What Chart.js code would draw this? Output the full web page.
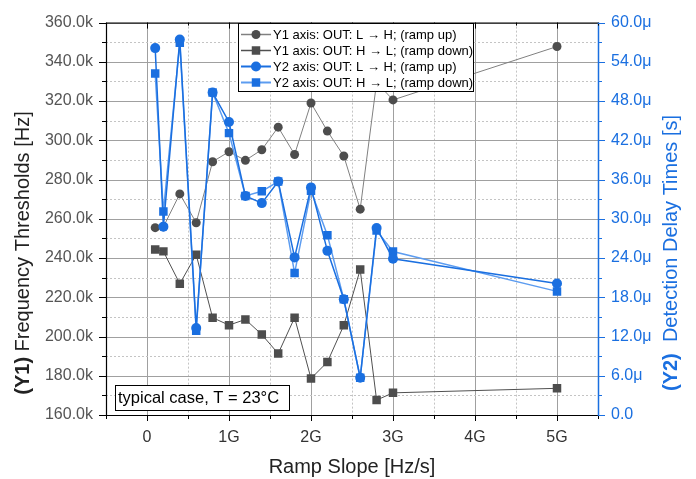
<!DOCTYPE html>
<html><head><meta charset="utf-8">
<script src="https://cdn.jsdelivr.net/npm/chart.js@4/dist/chart.umd.min.js"></script>
<style>html,body{margin:0;padding:0;background:#fff}#wrap{width:696px;height:479px}</style>
</head><body><div id="wrap"><canvas id="c" width="696" height="479"></canvas></div>
<script>
// ---- data ----
const slopes = [0.1e9,0.2e9,0.4e9,0.6e9,0.8e9,1.0e9,1.2e9,1.4e9,1.6e9,1.8e9,2.0e9,2.2e9,2.4e9,2.6e9,2.8e9,3.0e9,5.0e9];
const thrUp   = [255.5e3,255.9e3,272.7e3,258.0e3,289.1e3,294.2e3,289.8e3,295.2e3,306.7e3,292.8e3,319.0e3,304.7e3,292.0e3,264.9e3,329.5e3,320.6e3,347.8e3];
const thrDown = [244.3e3,243.4e3,226.9e3,241.7e3,209.6e3,205.8e3,208.7e3,201.0e3,191.3e3,209.6e3,178.6e3,187.0e3,205.7e3,234.1e3,167.6e3,171.3e3,173.6e3];
const delayUpUs   = [56.1,28.8,57.4,13.3,49.3,44.8,33.5,32.4,35.7,24.1,34.8,25.1,17.7,5.7,28.6,23.9,20.1];
const delayDownUs = [52.2,31.1,56.9,12.9,49.3,43.1,33.5,34.2,35.7,21.7,34.3,27.5,17.7,5.7,28.2,25.0,18.9];
const seriesLabels = [
  'Y1 axis: OUT: L \u2192 H; (ramp up)',
  'Y1 axis: OUT: H \u2192 L; (ramp down)',
  'Y2 axis: OUT: L \u2192 H; (ramp up)',
  'Y2 axis: OUT: H \u2192 L; (ramp down)'
];
const xTitle = 'Ramp Slope [Hz/s]';
const y1TitleBold = '(Y1)', y1Title = ' Frequency Thresholds [Hz]';
const y2TitleBold = '(Y2)', y2Title = '  Detection Delay Times [s]';
const noteText = 'typical case, T = 23\u00B0C';

const FONT = "'Liberation Sans', Arial, sans-serif";
const GRAY = '#4d4d4d', BLUE = '#1a6fe0', LBLUE = '#5c9cf0';

const pts = (xs, ys) => xs.map((x, i) => ({x: x, y: ys[i]}));

function isMajorX(v){ return Math.round(v/0.5e9) % 2 === 0; }
function isMajorY(v){ return Math.round(v/1e4) % 2 === 0; }
function isMajorY2(v){ return Math.round(v/3) % 2 === 0; }

const decor = {
  id: 'decor',
  beforeDatasetsDraw(chart){
    const {ctx, chartArea: a, scales: {x, y}} = chart;
    ctx.save();
    ctx.lineWidth = 1;
    x.ticks.forEach(t => {
      const px = Math.round(x.getPixelForValue(t.value)) + 0.5;
      if (px <= a.left + 1 || px >= a.right - 1) return;
      ctx.beginPath();
      if (isMajorX(t.value)) { ctx.strokeStyle = '#a0a0a0'; ctx.setLineDash([]); }
      else { ctx.strokeStyle = '#c4c4c4'; ctx.setLineDash([2, 2]); }
      ctx.moveTo(px, a.top); ctx.lineTo(px, a.bottom); ctx.stroke();
    });
    y.ticks.forEach(t => {
      const py = Math.round(y.getPixelForValue(t.value)) + 0.5;
      if (py <= a.top + 1 || py >= a.bottom - 1) return;
      ctx.beginPath();
      if (isMajorY(t.value)) { ctx.strokeStyle = '#a0a0a0'; ctx.setLineDash([]); }
      else { ctx.strokeStyle = '#c4c4c4'; ctx.setLineDash([2, 2]); }
      ctx.moveTo(a.left, py); ctx.lineTo(a.right, py); ctx.stroke();
    });
    ctx.restore();
  },
  afterDatasetsDraw(chart){
    const {ctx, chartArea: a, scales: {x, y, y2}} = chart;
    ctx.save();
    ctx.setLineDash([]);
    // frame
    ctx.lineWidth = 1.2;
    ctx.strokeStyle = '#000';
    ctx.beginPath();
    ctx.moveTo(a.right, a.top + 0.5); ctx.lineTo(a.left + 0.5, a.top + 0.5);
    ctx.lineTo(a.left + 0.5, a.bottom + 0.5); ctx.lineTo(a.right, a.bottom + 0.5);
    ctx.stroke();
    ctx.strokeStyle = BLUE; ctx.lineWidth = 1.5;
    ctx.beginPath(); ctx.moveTo(a.right + 0.5, a.top); ctx.lineTo(a.right + 0.5, a.bottom + 1); ctx.stroke();
    // tick marks
    ctx.lineWidth = 1;
    ctx.strokeStyle = '#000';
    x.ticks.forEach(t => {
      const px = Math.round(x.getPixelForValue(t.value)) + 0.5;
      const maj = isMajorX(t.value);
      ctx.beginPath();
      ctx.moveTo(px, a.bottom); ctx.lineTo(px, a.bottom + (maj ? 6 : 4));
      ctx.moveTo(px, a.top); ctx.lineTo(px, a.top + (maj ? 6 : 3));
      ctx.stroke();
    });
    y.ticks.forEach(t => {
      const py = Math.round(y.getPixelForValue(t.value)) + 0.5;
      const maj = isMajorY(t.value);
      ctx.beginPath(); ctx.moveTo(a.left, py); ctx.lineTo(a.left - (maj ? 7 : 4), py); ctx.stroke();
    });
    ctx.strokeStyle = BLUE;
    y2.ticks.forEach(t => {
      const py = Math.round(y2.getPixelForValue(t.value)) + 0.5;
      const maj = isMajorY2(t.value);
      ctx.beginPath(); ctx.moveTo(a.right, py); ctx.lineTo(a.right + (maj ? 7 : 4), py); ctx.stroke();
    });

    // legend box
    const lx = 238, ly = 23, lw = 235, lh = 68;
    ctx.fillStyle = '#fff'; ctx.fillRect(lx, ly, lw, lh);
    ctx.strokeStyle = '#000'; ctx.lineWidth = 1;
    ctx.strokeRect(lx + 0.5, ly + 0.5, lw, lh);
    const rows = [34, 50, 66, 82];
    chart.data.datasets.forEach((ds, i) => {
      const ry = rows[i];
      ctx.strokeStyle = ds.borderColor; ctx.lineWidth = ds.borderWidth + 0.5;
      ctx.beginPath(); ctx.moveTo(lx + 3, ry + 0.5); ctx.lineTo(lx + 33, ry + 0.5); ctx.stroke();
      ctx.fillStyle = ds.pointBackgroundColor;
      const r = ds.pointRadius;
      if (ds.pointStyle === 'rect') {
        const s = r * Math.SQRT1_2;
        ctx.fillRect(lx + 18 - s, ry + 0.5 - s, 2 * s, 2 * s);
      } else {
        ctx.beginPath(); ctx.arc(lx + 18, ry + 0.5, r, 0, Math.PI * 2); ctx.fill();
      }
      ctx.fillStyle = '#000';
      ctx.font = '13px ' + FONT;
      ctx.textBaseline = 'middle'; ctx.textAlign = 'left';
      ctx.fillText(ds.label, lx + 35, ry + 1);
    });

    // annotation box
    ctx.fillStyle = '#fff'; ctx.fillRect(115, 385, 174, 25);
    ctx.strokeStyle = '#000'; ctx.lineWidth = 1; ctx.strokeRect(115.5, 385.5, 174, 25);
    ctx.fillStyle = '#000'; ctx.font = '16.5px ' + FONT;
    ctx.textBaseline = 'middle'; ctx.textAlign = 'left';
    ctx.fillText(noteText, 118, 398.5);

    // axis titles
    ctx.fillStyle = '#222'; ctx.font = '20px ' + FONT; ctx.textAlign = 'center';
    ctx.fillText(xTitle, (a.left + a.right) / 2, 467);
    function vtitle(cx, cy, b, n, col){
      ctx.save();
      ctx.translate(cx, cy); ctx.rotate(-Math.PI / 2);
      ctx.fillStyle = col; ctx.textAlign = 'left'; ctx.textBaseline = 'middle';
      ctx.font = 'bold 20px ' + FONT; const wb = ctx.measureText(b).width;
      ctx.font = '20px ' + FONT; const wn = ctx.measureText(n).width;
      const x0 = -(wb + wn) / 2;
      ctx.font = 'bold 20px ' + FONT; ctx.fillText(b, x0, 0);
      ctx.font = '20px ' + FONT; ctx.fillText(n, x0 + wb, 0);
      ctx.restore();
    }
    vtitle(23, 253, y1TitleBold, y1Title, '#222');
    vtitle(671, 253, y2TitleBold, y2Title, BLUE);
    ctx.restore();
  }
};

new Chart(document.getElementById('c'), {
  type: 'line',
  data: {
    datasets: [
      {label: seriesLabels[0], data: pts(slopes, thrUp), yAxisID: 'y', borderColor: '#808080', borderWidth: 1,
       pointStyle: 'circle', pointRadius: 4.5, pointBackgroundColor: GRAY, pointBorderColor: GRAY, pointBorderWidth: 0, order: 2},
      {label: seriesLabels[1], data: pts(slopes, thrDown), yAxisID: 'y', borderColor: '#505050', borderWidth: 1,
       pointStyle: 'rect', pointRadius: 6, pointBackgroundColor: GRAY, pointBorderColor: GRAY, pointBorderWidth: 0, order: 2},
      {label: seriesLabels[2], data: pts(slopes, delayUpUs), yAxisID: 'y2', borderColor: BLUE, borderWidth: 1.5,
       pointStyle: 'circle', pointRadius: 5, pointBackgroundColor: BLUE, pointBorderColor: BLUE, pointBorderWidth: 0, order: 1},
      {label: seriesLabels[3], data: pts(slopes, delayDownUs), yAxisID: 'y2', borderColor: LBLUE, borderWidth: 1.5,
       pointStyle: 'rect', pointRadius: 6, pointBackgroundColor: BLUE, pointBorderColor: BLUE, pointBorderWidth: 0, order: 1}
    ]
  },
  options: {
    animation: false, responsive: false, devicePixelRatio: 1,
    layout: {padding: {top: 20, left: 0, right: 0, bottom: 0}},
    elements: {line: {tension: 0}},
    plugins: {legend: {display: false}, tooltip: {enabled: false}},
    scales: {
      x: {type: 'linear', min: -0.5e9, max: 5.5e9,
          grid: {display: false, drawTicks: false}, border: {display: false},
          ticks: {stepSize: 0.5e9, autoSkip: false, maxRotation: 0, padding: 13, color: '#333',
                  font: {family: FONT, size: 16},
                  callback: v => { const k = Math.round(v / 0.5e9); if (k % 2) return ''; return k === 0 ? '0' : (k / 2) + 'G'; }},
          afterFit: s => { s.height = 64; }},
      y: {type: 'linear', position: 'left', min: 160e3, max: 360e3,
          grid: {display: false, drawTicks: false}, border: {display: false},
          ticks: {stepSize: 10e3, autoSkip: false, padding: 13, color: '#555', font: {family: FONT, size: 16},
                  callback: v => { const k = Math.round(v / 1e4); return k % 2 ? '' : (k * 10).toFixed(1) + 'k'; }},
          afterFit: s => { s.width = 106; }},
      y2: {type: 'linear', position: 'right', min: 0, max: 60,
          grid: {display: false, drawTicks: false}, border: {display: false},
          ticks: {stepSize: 3, autoSkip: false, padding: 13, color: BLUE, font: {family: FONT, size: 16},
                  callback: v => { const k = Math.round(v / 3); if (k % 2) return ''; return k === 0 ? '0.0' : (k * 3).toFixed(1) + '\u03BC'; }},
          afterFit: s => { s.width = 98; }}
    }
  },
  plugins: [decor]
});
</script>
</body></html>
